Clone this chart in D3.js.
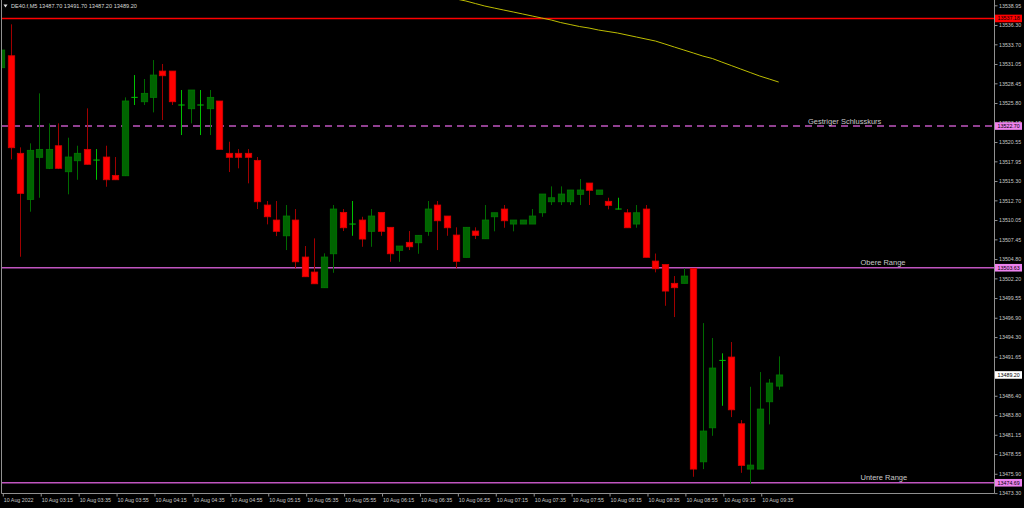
<!DOCTYPE html>
<html>
<head>
<meta charset="utf-8">
<script src="https://cdn.jsdelivr.net/npm/d3@7"></script>
<style>
  html, body { margin: 0; padding: 0; background: #000; }
  svg { display: block; }
  text { font-family: "Liberation Sans", Arial, sans-serif; }
</style>
</head>
<body>
<svg id="chart" width="1024" height="508"></svg>
<script>
// DE40.f M5, 10 Aug 2022, 02:55 .. 09:45
var symbolTitle = "DE40.f,M5  13487.70 13491.70 13487.20 13489.20";

var openP = [13530.55, 13532.16, 13519.03, 13512.83, 13518.49, 13517.01, 13520.05, 13516.55, 13518.03, 13519.56,
  13518.08, 13518.53, 13516.06, 13516.01, 13526.52, 13525.97, 13526.56, 13530.10, 13530.10, 13525.49,
  13525.03, 13525.49, 13525.03, 13526.07, 13519.03, 13519.03, 13519.03, 13518.08, 13512.07, 13510.05,
  13507.93, 13510.05, 13505.07, 13503.05, 13500.94, 13505.51, 13511.08, 13509.47, 13510.05, 13508.53,
  13511.08, 13509.07, 13505.97, 13507.05, 13506.99, 13508.53, 13512.07, 13510.59, 13508.03, 13505.03,
  13508.57, 13507.53, 13510.49, 13511.53, 13509.51, 13509.51, 13509.51, 13511.03, 13512.51, 13512.51,
  13512.51, 13513.51, 13515.03, 13513.51, 13512.57, 13511.49, 13511.03, 13509.51, 13511.53, 13504.53,
  13504.06, 13501.53, 13501.53, 13503.55, 13477.51, 13482.09, 13491.14, 13491.61, 13482.63, 13476.53,
  13476.53, 13485.59, 13487.70];
var highP = [13534.68, 13536.39, 13519.83, 13520.37, 13527.10, 13523.06, 13523.06, 13521.13, 13520.05, 13525.08,
  13519.60, 13520.05, 13518.53, 13526.56, 13529.56, 13529.03, 13531.58, 13531.05, 13530.10, 13527.55,
  13527.55, 13527.55, 13527.55, 13526.07, 13520.59, 13519.60, 13519.60, 13518.53, 13512.61, 13512.61,
  13512.07, 13511.53, 13506.55, 13507.58, 13505.57, 13512.07, 13511.53, 13512.61, 13510.49, 13511.53,
  13511.08, 13509.07, 13506.55, 13508.57, 13507.99, 13512.61, 13512.61, 13510.59, 13509.07, 13509.07,
  13509.07, 13512.07, 13511.03, 13512.07, 13510.05, 13510.05, 13511.53, 13513.55, 13514.58, 13514.58,
  13514.09, 13515.57, 13515.03, 13514.09, 13513.05, 13513.05, 13511.53, 13512.07, 13512.07, 13505.54,
  13504.06, 13502.51, 13503.55, 13503.55, 13496.18, 13494.17, 13492.11, 13493.63, 13483.13, 13487.61,
  13489.59, 13488.65, 13491.70];
var lowP = [13528.22, 13518.22, 13505.11, 13511.17, 13513.05, 13516.91, 13516.91, 13513.51, 13515.47, 13517.52,
  13515.47, 13514.53, 13515.43, 13515.97, 13525.53, 13525.53, 13524.54, 13523.51, 13525.53, 13521.49,
  13523.06, 13521.49, 13521.49, 13519.56, 13516.51, 13517.01, 13514.99, 13511.53, 13509.47, 13507.89,
  13506.01, 13503.55, 13502.42, 13501.47, 13500.94, 13502.95, 13508.57, 13507.93, 13506.45, 13506.45,
  13507.93, 13504.43, 13504.43, 13506.01, 13505.51, 13507.93, 13506.01, 13507.93, 13503.55, 13505.03,
  13507.49, 13507.53, 13508.53, 13509.01, 13508.53, 13509.51, 13509.51, 13510.49, 13512.07, 13512.07,
  13512.07, 13512.07, 13512.07, 13513.51, 13511.49, 13511.49, 13509.01, 13509.01, 13505.03, 13503.01,
  13498.51, 13496.99, 13501.53, 13475.50, 13476.53, 13481.01, 13485.05, 13483.53, 13476.03, 13474.51,
  13476.53, 13482.55, 13487.20];
var closeP = [13532.93, 13519.78, 13513.64, 13519.43, 13519.56, 13519.56, 13517.01, 13518.53, 13519.03, 13517.55,
  13518.12, 13515.47, 13515.47, 13526.07, 13526.56, 13527.10, 13529.56, 13529.47, 13525.97, 13525.53,
  13527.55, 13525.53, 13526.56, 13519.56, 13518.49, 13518.49, 13518.49, 13512.51, 13510.49, 13508.53,
  13510.59, 13504.43, 13502.42, 13501.47, 13505.07, 13511.53, 13509.01, 13509.51, 13507.49, 13510.59,
  13508.53, 13505.51, 13506.55, 13506.45, 13507.99, 13511.53, 13509.95, 13509.01, 13504.49, 13509.07,
  13507.99, 13510.05, 13511.03, 13509.95, 13510.05, 13510.05, 13510.59, 13513.55, 13513.05, 13513.55,
  13514.09, 13514.09, 13514.05, 13514.09, 13512.03, 13511.53, 13509.01, 13511.03, 13505.03, 13503.49,
  13500.49, 13500.94, 13502.51, 13476.53, 13481.65, 13490.13, 13491.16, 13484.51, 13477.03, 13477.07,
  13484.61, 13488.11, 13489.20];

// moving average, visible from bar 48 on
var maStart = 48;
var maValues = [13539.79, 13539.53, 13539.19, 13538.85, 13538.58, 13538.31, 13538.05, 13537.78, 13537.51, 13537.24,
  13536.97, 13536.63, 13536.36, 13536.09, 13535.89, 13535.62, 13535.42, 13535.22, 13534.95, 13534.68,
  13534.41, 13534.14, 13533.74, 13533.33, 13532.93, 13532.53, 13532.12, 13531.79, 13531.31, 13530.84,
  13530.37, 13529.90, 13529.43, 13529.03, 13528.62];

// 13489.05 sits fully under the last-price box, so it is left out
var priceTicks = [13538.95, 13536.30, 13533.70, 13531.05, 13528.45, 13525.80, 13523.15, 13520.55, 13517.95,
  13515.30, 13512.70, 13510.05, 13507.45, 13504.80, 13502.20, 13499.55, 13496.90, 13494.30, 13491.65,
  13486.40, 13483.80, 13481.15, 13478.55, 13475.90, 13473.30];

var timeTicks = ["02:55", "03:15", "03:35", "03:55", "04:15", "04:35", "04:55", "05:15", "05:35", "05:55",
  "06:15", "06:35", "06:55", "07:15", "07:35", "07:55", "08:15", "08:35", "08:55", "09:15", "09:35"];

var levels = [
  { name: "", price: 13537.18, color: "#ff0000", dash: null, box: "#ff0000" },
  { name: "Gestriger Schlusskurs", price: 13522.70, color: "#c055c0", dash: "7,5", box: "#ee82ee" },
  { name: "Obere Range", price: 13503.63, color: "#c055c0", dash: null, box: "#ee82ee" },
  { name: "Untere Range", price: 13474.69, color: "#c055c0", dash: null, box: "#ee82ee" }
];
var lastPrice = 13489.20;

var svg = d3.select("#chart");
svg.append("rect").attr("width", 1024).attr("height", 508).attr("fill", "#000");

var plotRight = 994, plotBottom = 493.5;

var day = function(h, m) { return new Date(2022, 7, 10, h, m); };
var parseHM = function(s) { var p = s.split(":"); return day(+p[0], +p[1]); };

var x = d3.scaleTime()
  .domain([day(2, 55), day(9, 45)])
  .range([1.3, 778.7]);
var y = d3.scaleLinear()
  .domain([13473.30, 13538.95])
  .range([493.1, 5.3]);

var barTimes = d3.timeMinute.every(5).range(day(2, 55), day(9, 50));
var bars = barTimes.map(function(t, i) {
  return { t: t, o: openP[i], h: highP[i], l: lowP[i], c: closeP[i] };
});

var plot = svg.append("g");
plot.append("clipPath").attr("id", "clip")
  .append("rect").attr("x", 1).attr("y", 0).attr("width", plotRight - 1).attr("height", plotBottom);

// horizontal levels
levels.forEach(function(lv) {
  plot.append("line")
    .attr("x1", 1).attr("x2", plotRight)
    .attr("y1", y(lv.price)).attr("y2", y(lv.price))
    .attr("stroke", lv.color)
    .attr("stroke-width", 1.6)
    .attr("stroke-dasharray", lv.dash);
});

var candles = plot.append("g").attr("clip-path", "url(#clip)");
var bw = 6.4;

candles.selectAll(".wick")
  .data(bars)
  .enter().append("line")
  .attr("class", "wick")
  .attr("x1", function(d) { return Math.round(x(d.t)) + 0.5; })
  .attr("x2", function(d) { return Math.round(x(d.t)) + 0.5; })
  .attr("y1", function(d) { return y(d.h); })
  .attr("y2", function(d) { return y(d.l); })
  .attr("stroke", function(d) {
    if (Math.abs(d.c - d.o) < 0.1) return "#00c000";
    return d.c > d.o ? "#006a00" : "#a00000";
  })
  .attr("stroke-width", 1);

candles.selectAll(".body")
  .data(bars.filter(function(d) { return Math.abs(d.c - d.o) >= 0.1; }))
  .enter().append("rect")
  .attr("class", "body")
  .attr("x", function(d) { return Math.round(x(d.t)) + 0.5 - bw / 2; })
  .attr("width", bw)
  .attr("y", function(d) { return y(Math.max(d.o, d.c)); })
  .attr("height", function(d) { return Math.max(1, Math.abs(y(d.o) - y(d.c))); })
  .attr("fill", function(d) { return d.c > d.o ? "#006400" : "#ff0000"; })
  .attr("stroke", function(d) { return d.c > d.o ? "#007a00" : "#d80000"; })
  .attr("stroke-width", 0.8);

candles.selectAll(".doji")
  .data(bars.filter(function(d) { return Math.abs(d.c - d.o) < 0.1; }))
  .enter().append("line")
  .attr("class", "doji")
  .attr("x1", function(d) { return Math.round(x(d.t)) + 0.5 - bw / 2; })
  .attr("x2", function(d) { return Math.round(x(d.t)) + 0.5 + bw / 2; })
  .attr("y1", function(d) { return y(d.c); })
  .attr("y2", function(d) { return y(d.c); })
  .attr("stroke", "#00c000")
  .attr("stroke-width", 1);

// moving average
var ma = maValues.map(function(v, i) { return { t: barTimes[maStart + i], v: v }; });
candles.append("path")
  .datum(ma)
  .attr("fill", "none")
  .attr("stroke", "#bdbd00")
  .attr("stroke-width", 1)
  .attr("d", d3.line().x(function(d) { return x(d.t); }).y(function(d) { return y(d.v); }));

// level names
levels.filter(function(lv) { return lv.name; }).forEach(function(lv) {
  svg.append("text")
    .attr("x", lv.name === "Gestriger Schlusskurs" ? 808 : 860.5)
    .attr("y", y(lv.price) - 2.5)
    .attr("fill", "#c8c8c8")
    .attr("font-size", 7.5)
    .text(lv.name);
});

// frame
svg.append("path")
  .attr("d", "M1.5,0V" + plotBottom + "H" + (plotRight + 0.5) + "V0")
  .attr("fill", "none")
  .attr("stroke", "#909090")
  .attr("stroke-width", 1);

// price axis
var yAxis = svg.append("g").attr("transform", "translate(" + (plotRight + 0.5) + ",0)")
  .call(d3.axisRight(y).tickValues(priceTicks).tickSize(3).tickPadding(1.5)
    .tickFormat(d3.format(".2f")));
yAxis.select(".domain").remove();
yAxis.selectAll(".tick line").attr("stroke", "#909090");
yAxis.selectAll(".tick text").attr("fill", "#c8c8c8").attr("font-size", 5.3)
  .attr("font-family", "Liberation Sans, Arial, sans-serif");

// time axis
var xAxis = svg.append("g").attr("transform", "translate(0," + plotBottom + ")")
  .call(d3.axisBottom(x).tickValues(timeTicks.map(parseHM)).tickSize(3).tickPadding(2)
    .tickFormat(function(d, i) { return i === 0 ? "10 Aug 2022" : "10 Aug " + d3.timeFormat("%H:%M")(d); }));
xAxis.select(".domain").remove();
xAxis.selectAll(".tick line").attr("stroke", "#909090").attr("transform", "translate(1.5,0)");
xAxis.selectAll(".tick text").attr("fill", "#c8c8c8").attr("font-size", 5.3)
  .attr("text-anchor", "start").attr("dx", 2)
  .attr("font-family", "Liberation Sans, Arial, sans-serif");

// price boxes on the axis
var boxes = levels.map(function(lv) { return { p: lv.price, fill: lv.box, ink: "#000" }; })
  .concat([{ p: lastPrice, fill: "#ffffff", ink: "#000" }]);
var boxG = svg.selectAll(".pbox").data(boxes).enter().append("g")
  .attr("class", "pbox")
  .attr("transform", function(d) { return "translate(995," + y(d.p) + ")"; });
boxG.append("rect")
  .attr("x", 0).attr("y", -3.8).attr("width", 27).attr("height", 7.6)
  .attr("fill", function(d) { return d.fill; });
boxG.append("text")
  .attr("x", 2.6).attr("y", 1.9)
  .attr("fill", function(d) { return d.ink; })
  .attr("font-size", 5.3)
  .text(function(d) { return d3.format(".2f")(d.p); });

// header
svg.append("path").attr("d", "M3.5,4.5h4l-2,3z").attr("fill", "#e0e0e0");
svg.append("text")
  .attr("x", 11).attr("y", 8)
  .attr("fill", "#d8d8d8")
  .attr("font-size", 5.6)
  .text(symbolTitle);
</script>
</body>
</html>
